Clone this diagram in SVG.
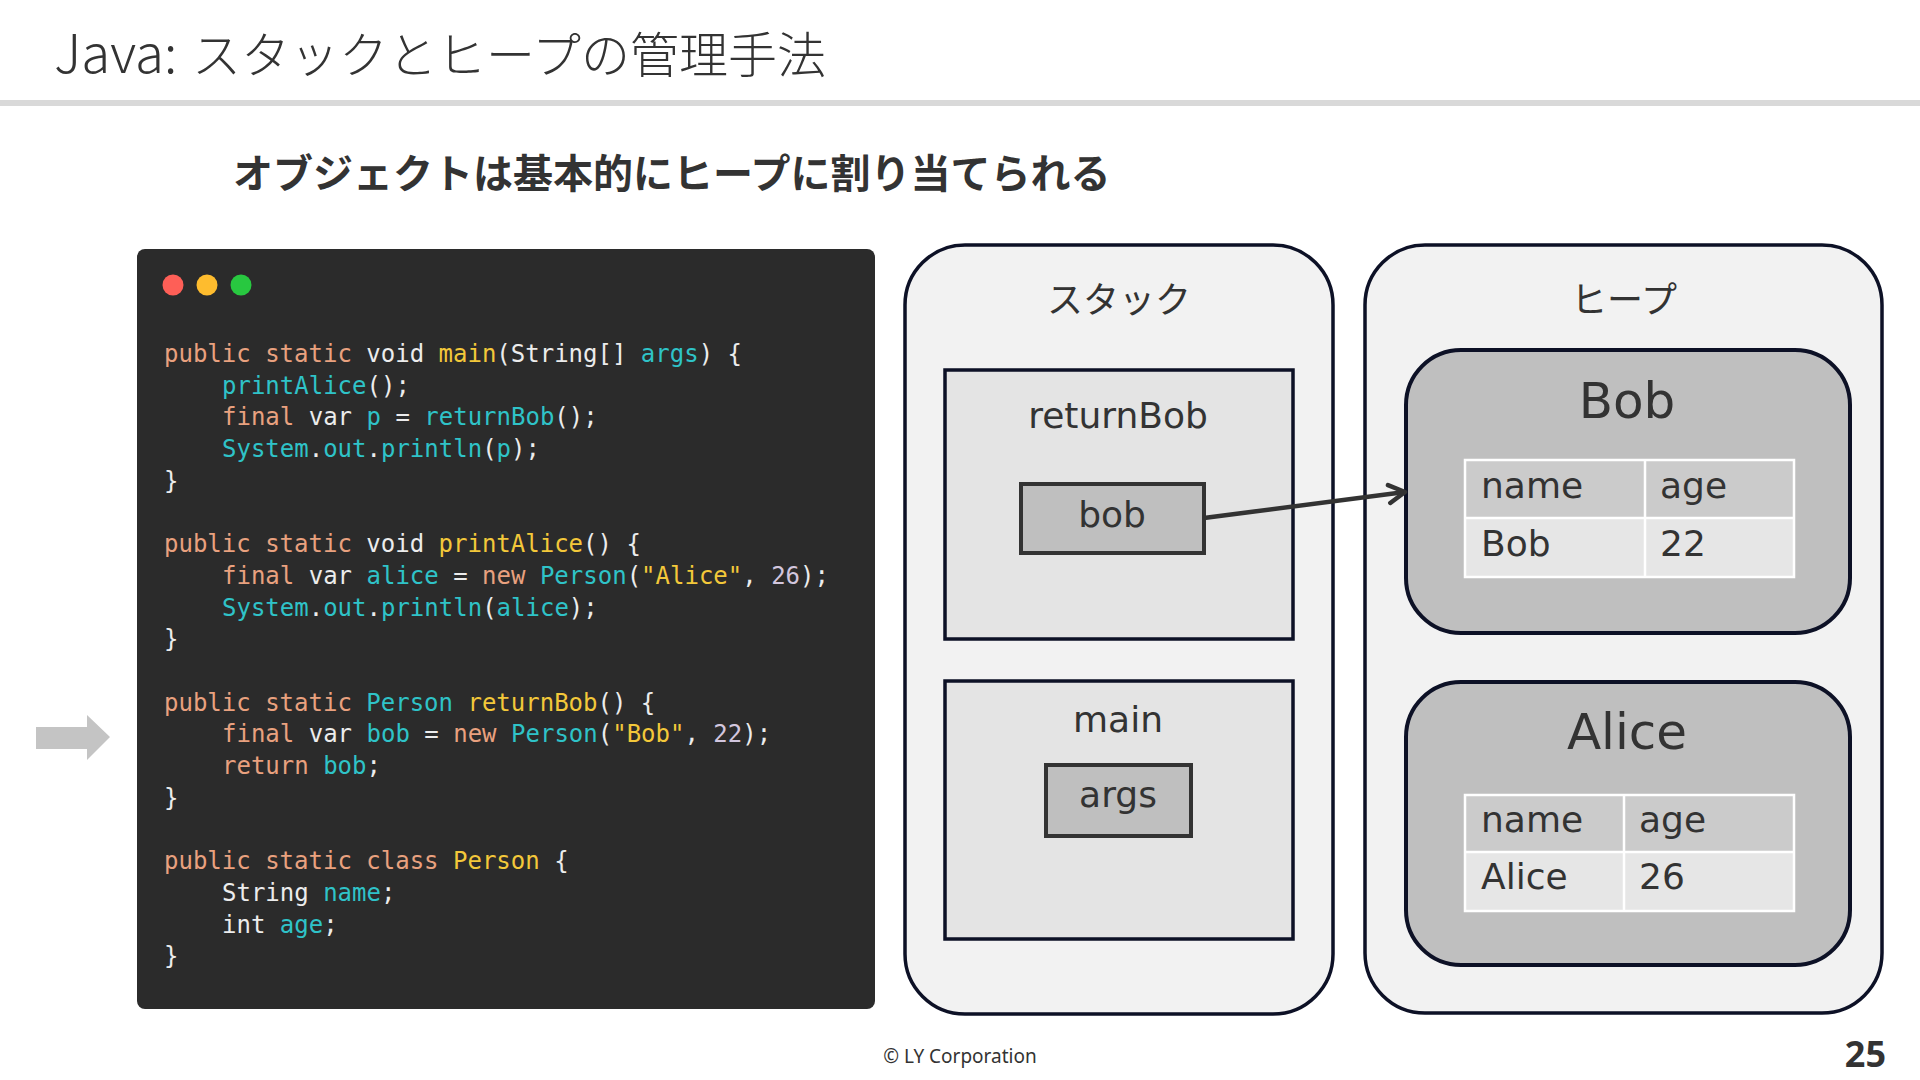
<svg xmlns="http://www.w3.org/2000/svg" width="1920" height="1080" viewBox="0 0 1920 1080">
<defs>
<style>
.jp{font-family:"Noto Sans CJK JP","Noto Sans",sans-serif;fill:#333}
.lbl{font-family:"DejaVu Sans",Verdana,sans-serif;fill:#333}
.code{font-family:"DejaVu Sans Mono","Liberation Mono",monospace;font-size:24px;fill:#ececec;white-space:pre}
.k{fill:#e9a17f}
.c{fill:#2fc3c8}
.y{fill:#f3c83a}
.p{fill:#d2c6de}
.container{fill:#f2f2f2;stroke:#0d1126;stroke-width:3.5}
.frame{fill:#e4e4e4;stroke:#0d1126;stroke-width:3.5}
.var{fill:#bfbfbf;stroke:#333;stroke-width:4}
.obj{fill:#bfbfbf;stroke:#0d1126;stroke-width:4}
.th{fill:#cbcbcb}
.td{fill:#e6e6e6}
.grid{fill:none;stroke:#fff;stroke-width:2.5}
</style>
<marker id="open" viewBox="0 0 24 24" refX="21" refY="12" markerWidth="24" markerHeight="24" markerUnits="userSpaceOnUse" orient="auto">
<path d="M5,3 L21,12 L5,21" fill="none" stroke="#333" stroke-width="4.5" stroke-linecap="round" stroke-linejoin="round"/>
</marker>
</defs>
<rect width="1920" height="1080" fill="#fff"/>

<g id="title">
<text class="jp" x="54" y="73" font-size="53" font-weight="300">Java:<tspan x="192" font-size="49">スタックとヒープの管理手法</tspan></text>
<rect x="0" y="100" width="1920" height="6" fill="#d9d9d9"/>
</g>
<g id="subtitle">
<text class="jp" x="233" y="188" font-size="40" font-weight="700">オブジェクトは基本的にヒープに割り当てられる</text>
</g>

<g id="pointer-arrow">
<polygon points="36,727 87,727 87,715 110,737 87,760 87,749 36,749" fill="#c4c4c4"/>
</g>

<g id="code-panel">
<rect x="137" y="249" width="738" height="760" rx="8" fill="#2b2b2b"/>
<circle cx="173" cy="285" r="10.5" fill="#fe5f57"/>
<circle cx="207" cy="285" r="10.5" fill="#febc2e"/>
<circle cx="241" cy="285" r="10.5" fill="#28c840"/>
<text class="code" x="164" y="362"><tspan class="k">public static</tspan> void <tspan class="y">main</tspan>(String[] <tspan class="c">args</tspan>) {</text>
<text class="code" x="222" y="393.7"><tspan class="c">printAlice</tspan>();</text>
<text class="code" x="222" y="425.4"><tspan class="k">final</tspan> var <tspan class="c">p</tspan> = <tspan class="c">returnBob</tspan>();</text>
<text class="code" x="222" y="457.1"><tspan class="c">System</tspan>.<tspan class="c">out</tspan>.<tspan class="c">println</tspan>(<tspan class="c">p</tspan>);</text>
<text class="code" x="164" y="488.8">}</text>
<text class="code" x="164" y="552.2"><tspan class="k">public static</tspan> void <tspan class="y">printAlice</tspan>() {</text>
<text class="code" x="222" y="583.9"><tspan class="k">final</tspan> var <tspan class="c">alice</tspan> = <tspan class="k">new</tspan> <tspan class="c">Person</tspan>(<tspan class="y">"Alice"</tspan>, <tspan class="p">26</tspan>);</text>
<text class="code" x="222" y="615.6"><tspan class="c">System</tspan>.<tspan class="c">out</tspan>.<tspan class="c">println</tspan>(<tspan class="c">alice</tspan>);</text>
<text class="code" x="164" y="647.3">}</text>
<text class="code" x="164" y="710.7"><tspan class="k">public static</tspan> <tspan class="c">Person</tspan> <tspan class="y">returnBob</tspan>() {</text>
<text class="code" x="222" y="742.4"><tspan class="k">final</tspan> var <tspan class="c">bob</tspan> = <tspan class="k">new</tspan> <tspan class="c">Person</tspan>(<tspan class="y">"Bob"</tspan>, <tspan class="p">22</tspan>);</text>
<text class="code" x="222" y="774.1"><tspan class="k">return</tspan> <tspan class="c">bob</tspan>;</text>
<text class="code" x="164" y="805.8">}</text>
<text class="code" x="164" y="869.2"><tspan class="k">public static class</tspan> <tspan class="y">Person</tspan> {</text>
<text class="code" x="222" y="900.9">String <tspan class="c">name</tspan>;</text>
<text class="code" x="222" y="932.6">int <tspan class="c">age</tspan>;</text>
<text class="code" x="164" y="964.3">}</text>
</g>

<g id="stack">
<rect class="container" x="905" y="245" width="428" height="769" rx="60"/>
<text class="jp" x="1119" y="313" font-size="36" text-anchor="middle">スタック</text>
</g>
<g id="frame-returnBob">
<rect class="frame" x="945" y="370" width="348" height="269"/>
<text class="lbl" x="1118" y="428" font-size="36" text-anchor="middle">returnBob</text>
</g>
<g id="var-bob">
<rect class="var" x="1021" y="484" width="183" height="69"/>
<text class="lbl" x="1112" y="527" font-size="36" text-anchor="middle">bob</text>
</g>
<g id="frame-main">
<rect class="frame" x="945" y="681" width="348" height="258"/>
<text class="lbl" x="1118" y="732" font-size="36" text-anchor="middle">main</text>
</g>
<g id="var-args">
<rect class="var" x="1046" y="765" width="145" height="71"/>
<text class="lbl" x="1118" y="807" font-size="36" text-anchor="middle">args</text>
</g>

<g id="heap">
<rect class="container" x="1365" y="245" width="517" height="768" rx="60"/>
<text class="jp" x="1624" y="313" font-size="36" text-anchor="middle">ヒープ</text>
</g>
<g id="obj-bob">
<rect class="obj" x="1406" y="350" width="444" height="283" rx="55"/>
<text class="lbl" x="1627" y="418" font-size="50" text-anchor="middle">Bob</text>
<rect class="th" x="1465" y="460" width="329" height="58"/>
<rect class="td" x="1465" y="518" width="329" height="59"/>
<rect class="grid" x="1465" y="460" width="329" height="117"/>
<line class="grid" x1="1465" y1="518" x2="1794" y2="518"/>
<line class="grid" x1="1645" y1="460" x2="1645" y2="577"/>
<text class="lbl" x="1481" y="498" font-size="36">name</text>
<text class="lbl" x="1660" y="498" font-size="36">age</text>
<text class="lbl" x="1481" y="556" font-size="36">Bob</text>
<text class="lbl" x="1660" y="556" font-size="36">22</text>
</g>
<g id="obj-alice">
<rect class="obj" x="1406" y="682" width="444" height="283" rx="55"/>
<text class="lbl" x="1627" y="749" font-size="50" text-anchor="middle">Alice</text>
<rect class="th" x="1465" y="795" width="329" height="57"/>
<rect class="td" x="1465" y="852" width="329" height="59"/>
<rect class="grid" x="1465" y="795" width="329" height="116"/>
<line class="grid" x1="1465" y1="852" x2="1794" y2="852"/>
<line class="grid" x1="1624" y1="795" x2="1624" y2="911"/>
<text class="lbl" x="1481" y="832" font-size="36">name</text>
<text class="lbl" x="1639" y="832" font-size="36">age</text>
<text class="lbl" x="1481" y="889" font-size="36">Alice</text>
<text class="lbl" x="1639" y="889" font-size="36">26</text>
</g>

<g id="connectors">
<line x1="1204" y1="518" x2="1405" y2="492" stroke="#333" stroke-width="4.5" marker-end="url(#open)"/>
</g>

<g id="footer">
<text x="960" y="1063" font-family="Noto Sans, DejaVu Sans, sans-serif" font-size="19" fill="#333" text-anchor="middle">© LY Corporation</text>
<text x="1886" y="1067" font-family="Noto Sans, DejaVu Sans, sans-serif" font-size="36" font-weight="700" fill="#333" text-anchor="end">25</text>
</g>
</svg>
